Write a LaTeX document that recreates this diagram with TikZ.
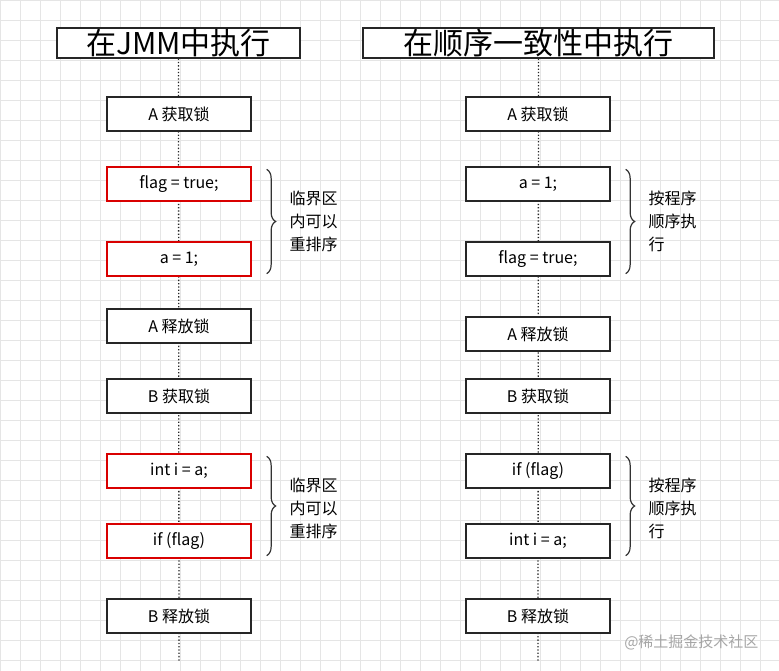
\documentclass[tikz,border=0pt]{standalone}
\usepackage{fontspec}
\setmainfont{Noto Sans CJK SC}
\usetikzlibrary{decorations.pathreplacing}
\begin{document}
\begin{tikzpicture}[x=1pt,y=-1pt,
 stepbox/.style={draw=black!85,line width=1.3pt,minimum width=144pt,minimum height=34pt,inner sep=0pt,font=\fontsize{16}{18}\selectfont,fill=white},
 redbox/.style={stepbox,draw=red!85!black},
 titlebox/.style={draw=black!85,line width=1.3pt,minimum height=30pt,inner sep=0pt,font=\fontsize{30}{32}\selectfont,fill=white},
 lane/.style={dotted,line width=1.3pt,black!85},
 brace/.style={decorate,decoration={brace,amplitude=9pt},line width=1.2pt,black!80},
 gridline/.style={black!10,line width=0.6pt},
 note/.style={align=left,font=\fontsize{16}{23}\selectfont,anchor=west}]
\useasboundingbox (0,0) rectangle (779,671);
\fill[white] (0,0) rectangle (779,671);
\foreach \i in {0,20,...,780} \draw[gridline] (\i,0) -- (\i,671);
\foreach \j in {0,20,...,660} \draw[gridline] (0,\j) -- (779,\j);
% left
\node[titlebox,minimum width=243pt] (tl) at (178.5,43) {在JMM中执行};
\coordinate (el) at (179,662);
\draw[lane] (tl.south) -- (el);
\node[stepbox] (l1) at (179,114) {A 获取锁};
\node[redbox] (l2) at (179,184) {flag = true;};
\node[redbox] (l3) at (179,259) {a = 1;};
\node[stepbox] (l4) at (179,326) {A 释放锁};
\node[stepbox] (l5) at (179,396) {B 获取锁};
\node[redbox] (l6) at (179,471) {int i = a;};
\node[redbox] (l7) at (179,541) {if (flag)};
\node[stepbox] (l8) at (179,616) {B 释放锁};
\draw[brace] ([xshift=15pt,yshift=-3pt]l2.north east) -- ([xshift=15pt,yshift=3pt]l3.south east);
\node[note] (n1) at (286,221) {临界区\\内可以\\重排序};
\draw[brace] ([xshift=15pt,yshift=-3pt]l6.north east) -- ([xshift=15pt,yshift=3pt]l7.south east);
\node[note] (n2) at (286,508) {临界区\\内可以\\重排序};
% right
\node[titlebox,minimum width=351pt] (tr) at (538.5,43) {在顺序一致性中执行};
\coordinate (er) at (538,662);
\draw[lane] (tr.south) -- (er);
\node[stepbox] (r1) at (538,114) {A 获取锁};
\node[stepbox] (r2) at (538,184) {a = 1;};
\node[stepbox] (r3) at (538,259) {flag = true;};
\node[stepbox] (r4) at (538,334) {A 释放锁};
\node[stepbox] (r5) at (538,396) {B 获取锁};
\node[stepbox] (r6) at (538,471) {if (flag)};
\node[stepbox] (r7) at (538,541) {int i = a;};
\node[stepbox] (r8) at (538,616) {B 释放锁};
\draw[brace] ([xshift=15pt,yshift=-3pt]r2.north east) -- ([xshift=15pt,yshift=3pt]r3.south east);
\node[note] (n3) at (645,221) {按程序\\顺序执\\行};
\draw[brace] ([xshift=15pt,yshift=-3pt]r6.north east) -- ([xshift=15pt,yshift=3pt]r7.south east);
\node[note] (n4) at (645,508) {按程序\\顺序执\\行};
\node[text=black!35,font=\fontsize{15}{17}\selectfont,anchor=east] (wm) at (762,642) {@稀土掘金技术社区};
\end{tikzpicture}
\end{document}
